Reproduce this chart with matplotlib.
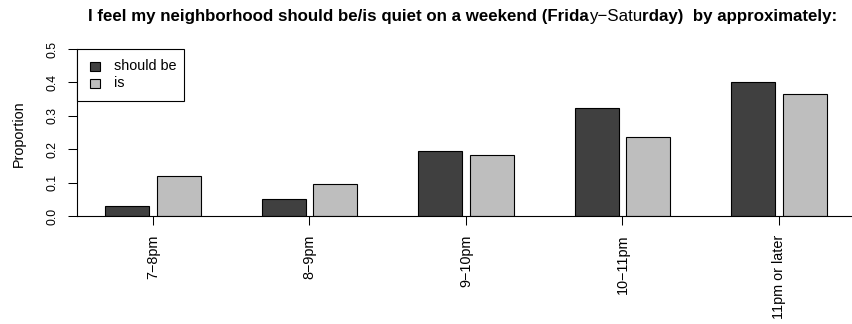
import matplotlib
matplotlib.use("Agg")
import matplotlib.pyplot as plt
from matplotlib.patches import Rectangle
from matplotlib.text import Annotation
import numpy as np

plt.rcParams["font.family"] = ["Liberation Sans", "DejaVu Sans"]

# Survey answers: share of respondents per quiet-time bracket
categories = ["7\u22128pm", "8\u22129pm", "9\u221210pm", "10\u221211pm", "11pm or later"]
should_be = [0.030, 0.052, 0.196, 0.322, 0.402]
is_now = [0.120, 0.097, 0.183, 0.237, 0.364]
series_names = ["should be", "is"]
series_colors = ["#404040", "#BEBEBE"]
yticks = [0.0, 0.1, 0.2, 0.3, 0.4, 0.5]
title_runs = [
    ("I feel my neighborhood should be/is quiet on a weekend (Frida", "bold"),
    ("y\u2212Satu", "normal"),
    ("rday)  by approximately:", "bold"),
]

W, H = 852, 324
fig = plt.figure(figsize=(W / 100, H / 100), dpi=100)

# plot region in pixels: x 77..852, y 49..216
ax = fig.add_axes([77 / W, (H - 216) / H, (852 - 77) / W, (216 - 49) / H])

group_step = 3.557
offset = 0.59
centers = np.arange(len(categories)) * group_step
ax.bar(centers - offset, should_be, width=1.0, color=series_colors[0],
       edgecolor="black", linewidth=0.8)
ax.bar(centers + offset, is_now, width=1.0, color=series_colors[1],
       edgecolor="black", linewidth=0.8)

left = -offset - 0.5 - 28 / 44
ax.set_xlim(left, left + 775 / 44)
ax.set_ylim(0, 0.5)

for s in ("top", "right", "bottom"):
    ax.spines[s].set_visible(False)
ax.spines["left"].set_linewidth(0.8)
ax.axhline(0, color="black", linewidth=0.8, clip_on=False)

ax.set_xticks(centers)
ax.set_xticklabels(categories, rotation=90, va="top", ha="center", fontsize=10.4)
ax.tick_params(axis="x", direction="out", length=6.5, width=0.75, pad=7)

ax.set_yticks(yticks)
ax.set_yticklabels([f"{v:.1f}" for v in yticks], rotation=90, va="center",
                   ha="right", fontsize=8.8)
ax.tick_params(axis="y", direction="out", length=6.5, width=0.75, pad=7)

fig.text(18.5 / W, 1 - 133.5 / H, "Proportion", rotation=90, ha="center",
         va="center", fontsize=10.4)


def fx(px):
    return px / W


def fy(py):
    return 1 - py / H


# Legend box in the top-left corner of the plot region
fig.patches.append(Rectangle((fx(77), fy(101)), fx(184) - fx(77), fy(49) - fy(101),
                             transform=fig.transFigure, facecolor="white",
                             edgecolor="black", linewidth=0.8, zorder=5))
for i, (name, col) in enumerate(zip(series_names, series_colors)):
    yc = 66.5 + i * 16.5
    fig.patches.append(Rectangle((fx(90), fy(yc + 4.5)), fx(100) - fx(90),
                                 fy(yc - 4.5) - fy(yc + 4.5),
                                 transform=fig.transFigure, facecolor=col,
                                 edgecolor="black", linewidth=0.8, zorder=6))
    fig.text(fx(114), fy(yc), name, ha="left", va="center", fontsize=10.4, zorder=7)

# Title in three runs with a change of weight in the middle
title_size = 12.5
first_text, first_weight = title_runs[0]
parts = [fig.text(fx(88), fy(20.7), first_text, ha="left", va="baseline",
                  fontsize=title_size, fontweight=first_weight)]
for text, weight in title_runs[1:]:
    parts.append(fig.add_artist(Annotation(text, xy=(1, 0), xycoords=parts[-1],
                                           ha="left", va="bottom",
                                           fontsize=title_size, fontweight=weight)))

# scale the title so it spans from x=88 to x=839
renderer = fig.canvas.get_renderer()
x0 = parts[0].get_window_extent(renderer).x0
x1 = parts[-1].get_window_extent(renderer).x1
new_size = title_size * (839 - 88) / (x1 - x0)
for p in parts:
    p.set_fontsize(new_size)

fig.savefig("out.png", dpi=100)
